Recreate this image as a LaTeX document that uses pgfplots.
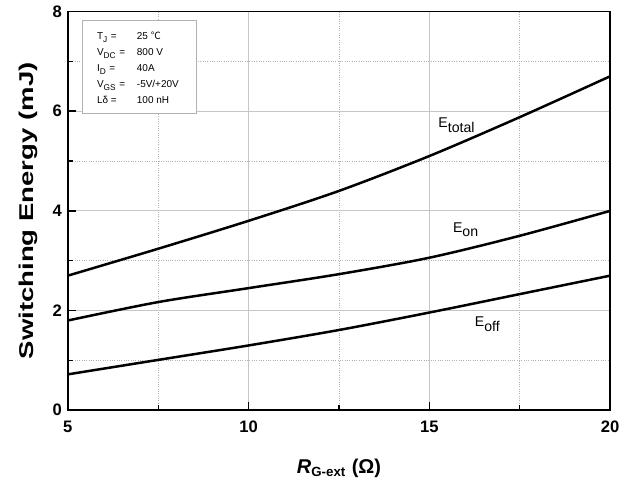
\documentclass[border=0pt]{standalone}
\usepackage{fontspec}
\setmainfont{Liberation Sans}
\newfontfamily\cjk{Noto Sans CJK SC}
\usepackage{pgfplots}
\pgfplotsset{compat=1.18}
\usetikzlibrary{calc}
\newcommand{\sub}[1]{\raisebox{-2.8pt}{#1}}

\begin{document}
\begin{tikzpicture}
\begin{axis}[
	scale only axis,
	width=326.4pt, height=240pt,
	xmin=5, xmax=20, ymin=0, ymax=8,
	xtick={5,10,15,20}, ytick={0,2,4,6,8},
	minor x tick num=1, minor y tick num=1,
	xtick pos=bottom, ytick pos=left,
	tick align=inside,
	major tick length=5pt, minor tick length=3pt,
	axis line style={line width=1pt},
	tick style={line width=0.8pt, black},
	grid=both,
	major grid style={gray!45, line width=0.5pt},
	minor grid style={densely dotted, gray!60, line width=0.4pt},
	/pgf/number format/assume math mode=true,
	tick label style={font=\fontsize{10}{12}\selectfont\bfseries},
	xticklabel style={yshift=-3pt},
	xlabel={\textbf{\textit{R}\textsubscript{G-ext} (Ω)}},
	ylabel={\scalebox{1.38}[1]{\textbf{Switching Energy (mJ)}}},
	label style={font=\fontsize{12}{14}\selectfont},
	xlabel style={yshift=-9pt},
	ylabel style={yshift=2pt},
	clip=false,
]
\addplot[black, line width=1.5pt, smooth] coordinates {
	(5,2.7) (7.5,3.24) (10,3.8) (12.5,4.4) (15,5.1) (17.5,5.88) (20,6.7)
};
\addplot[black, line width=1.5pt, smooth] coordinates {
	(5,1.8) (7.5,2.17) (10,2.45) (12.5,2.73) (15,3.06) (17.5,3.5) (20,4.0)
};
\addplot[black, line width=1.5pt, smooth] coordinates {
	(5,0.72) (7.5,1.01) (10,1.3) (12.5,1.61) (15,1.96) (17.5,2.33) (20,2.7)
};
\node[font=\fontsize{8.5}{10}\selectfont, inner sep=0pt] at (axis cs:15.75,5.72) {E\sub{total}};
\node[font=\fontsize{8.5}{10}\selectfont, inner sep=0pt] at (axis cs:16.0,3.62) {E\sub{on}};
\node[font=\fontsize{8.5}{10}\selectfont, inner sep=0pt] at (axis cs:16.6,1.72) {E\sub{off}};
\draw[gray!60, line width=0.4pt, fill=white] (axis cs:5.41,7.82) rectangle (axis cs:8.56,5.96);
\node[anchor=north west, inner sep=0pt, font=\fontsize{6}{9.6}\selectfont]
	at (axis cs:5.8,7.66) {%
	\begin{tabular}{@{}p{24pt}@{}l@{}}
	T\textsubscript{J} = & 25 {\cjk ℃} \\
	V\textsubscript{DC} = & 800 V \\
	I\textsubscript{D} = & 40A \\
	V\textsubscript{GS} = & -5V/+20V \\
	Lδ = & 100 nH
	\end{tabular}};
\end{axis}
\path ($(current axis.south west)+(-40.8pt,-44.4pt)$) rectangle ($(current axis.north east)+(7.8pt,6pt)$);
\end{tikzpicture}
\end{document}
